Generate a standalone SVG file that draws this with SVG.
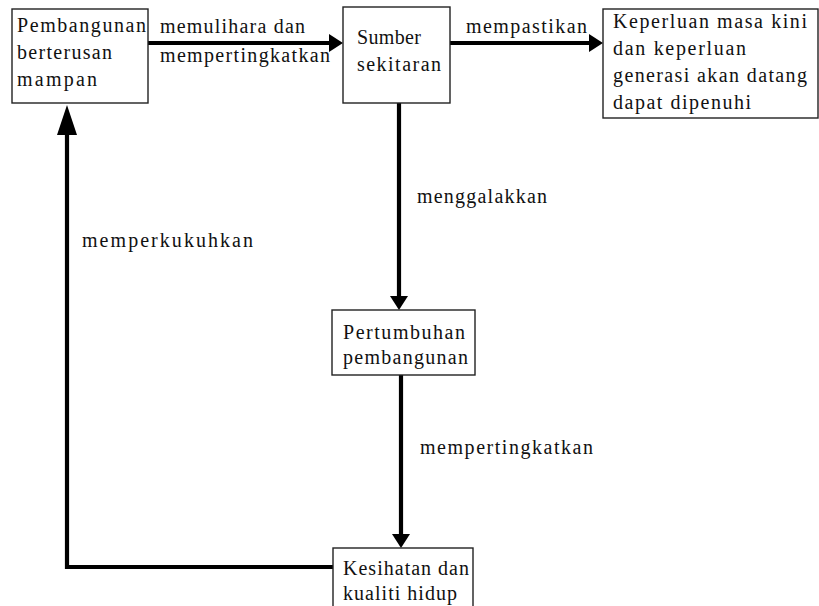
<svg xmlns="http://www.w3.org/2000/svg" width="819" height="606" viewBox="0 0 819 606">
<defs>
<style>
.box{fill:#fff;stroke:#222;stroke-width:1.4}
.t{font-family:"Liberation Serif","Times New Roman",serif;font-size:20px;fill:#111}
.c{fill:none;stroke:#000;stroke-width:4.2}
</style>
<marker id="ah" markerUnits="userSpaceOnUse" markerWidth="14" markerHeight="18" refX="4" refY="9" orient="auto" viewBox="0 0 14 18">
<path d="M0,0 L14,9 L0,18 z" fill="#000"/>
</marker>
<marker id="ahL" markerUnits="userSpaceOnUse" markerWidth="30" markerHeight="20" refX="8" refY="10" orient="auto" viewBox="0 0 30 20">
<path d="M0,0 L30,10 L0,20 z" fill="#000"/>
</marker>
</defs>
<rect width="819" height="606" fill="#fff"/>
<g id="connectors">
<path class="c" d="M148,43 H333" marker-end="url(#ah)"/>
<path class="c" d="M450,43 H593" marker-end="url(#ah)"/>
<path class="c" d="M399,103 V300" marker-end="url(#ah)"/>
<path class="c" d="M401,375 V538" marker-end="url(#ah)"/>
<path class="c" d="M333,567 H67 V127" marker-end="url(#ahL)"/>
<text class="t" x="160" y="33" textLength="145" lengthAdjust="spacing">memulihara dan</text>
<text class="t" x="160" y="62" textLength="170" lengthAdjust="spacing">mempertingkatkan</text>
<text class="t" x="466" y="33" textLength="121" lengthAdjust="spacing">mempastikan</text>
<text class="t" x="417" y="203" textLength="130" lengthAdjust="spacing">menggalakkan</text>
<text class="t" x="82" y="247" textLength="171" lengthAdjust="spacing">memperkukuhkan</text>
<text class="t" x="420" y="454" textLength="173" lengthAdjust="spacing">mempertingkatkan</text>
</g>
<g id="node-pembangunan">
<rect class="box" x="12" y="9" width="136" height="94"/>
<text class="t" x="17" y="32" textLength="129" lengthAdjust="spacing">Pembangunan</text>
<text class="t" x="17" y="59" textLength="95" lengthAdjust="spacing">berterusan</text>
<text class="t" x="17" y="86" textLength="80" lengthAdjust="spacing">mampan</text>
</g>
<g id="node-sumber">
<rect class="box" x="343" y="7" width="107" height="96"/>
<text class="t" x="357" y="44" textLength="64" lengthAdjust="spacing">Sumber</text>
<text class="t" x="357" y="71" textLength="84" lengthAdjust="spacing">sekitaran</text>
</g>
<g id="node-keperluan">
<rect class="box" x="603" y="9" width="215" height="109"/>
<text class="t" x="613" y="28" textLength="194" lengthAdjust="spacing">Keperluan masa kini</text>
<text class="t" x="613" y="55" textLength="133" lengthAdjust="spacing">dan keperluan</text>
<text class="t" x="613" y="82" textLength="194" lengthAdjust="spacing">generasi akan datang</text>
<text class="t" x="613" y="109" textLength="138" lengthAdjust="spacing">dapat dipenuhi</text>
</g>
<g id="node-pertumbuhan">
<rect class="box" x="332" y="310" width="143" height="65"/>
<text class="t" x="343" y="339" textLength="122" lengthAdjust="spacing">Pertumbuhan</text>
<text class="t" x="343" y="364" textLength="125" lengthAdjust="spacing">pembangunan</text>
</g>
<g id="node-kesihatan">
<rect class="box" x="333" y="548" width="140" height="70"/>
<text class="t" x="343" y="575" textLength="126" lengthAdjust="spacing">Kesihatan dan</text>
<text class="t" x="343" y="600" textLength="114" lengthAdjust="spacing">kualiti hidup</text>
</g>
</svg>
